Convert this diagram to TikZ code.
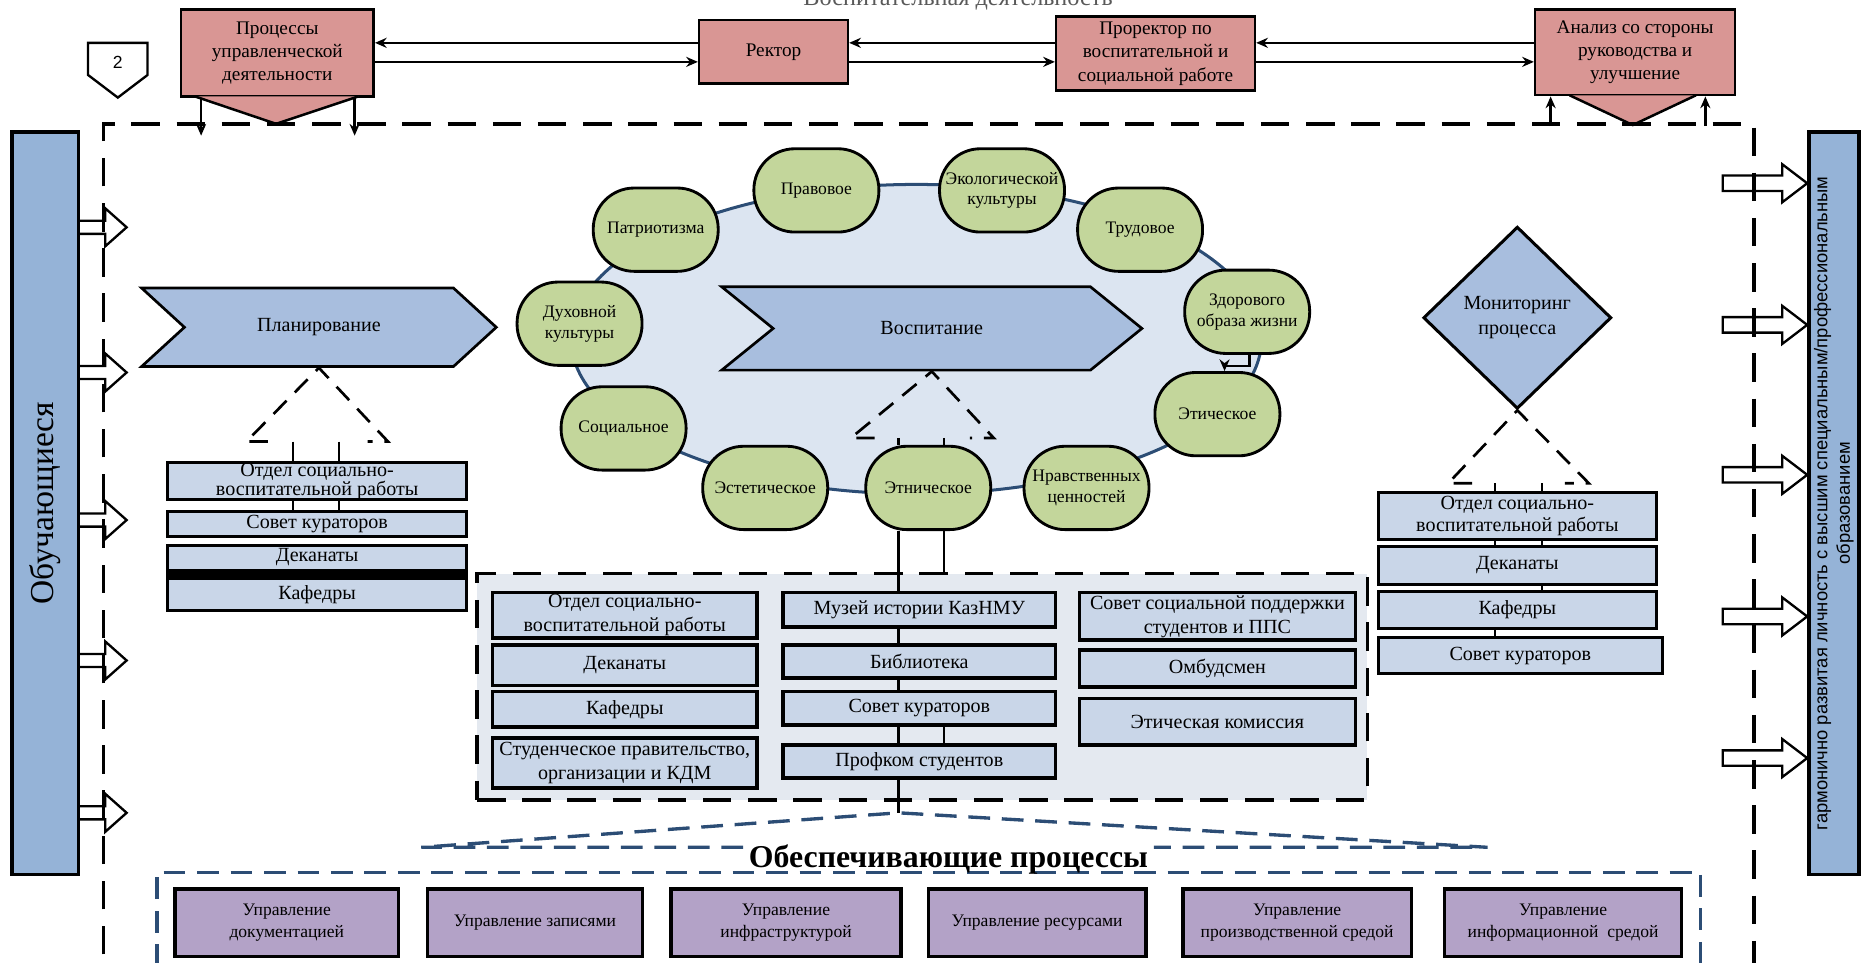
\documentclass[tikz,border=0pt]{standalone}
\usepackage{fontspec}
\setmainfont{Liberation Serif}
\newfontfamily\sansfont{Liberation Sans}
\usetikzlibrary{arrows.meta,shapes.geometric,shapes.symbols,calc}

\definecolor{pinkbox}{RGB}{217,150,148}
\definecolor{barblue}{RGB}{149,179,215}
\definecolor{chevblue}{RGB}{168,190,222}
\definecolor{leafgreen}{RGB}{195,214,155}
\definecolor{paleblue}{RGB}{201,214,232}
\definecolor{ovalfill}{RGB}{220,229,241}
\definecolor{panelfill}{RGB}{228,233,240}
\definecolor{lilac}{RGB}{179,162,199}
\definecolor{navy}{RGB}{44,77,117}

\begin{document}
\begin{tikzpicture}[>={Stealth[length=7pt,width=6pt]},x=0.025cm,y=-0.025cm,font=\fontsize{11.5}{13.9}\selectfont,
  redbox/.style={rectangle,fill=pinkbox,draw=black,line width=1.5pt,align=center,inner sep=0pt},
  bar/.style={rectangle,fill=barblue,draw=black,line width=2pt,rotate=90,inner sep=0pt,align=center},
  chevron/.style={signal,signal from=west,signal to=east,fill=chevblue,draw=black,line width=1.6pt,inner sep=0pt,font=\fontsize{12}{14}\selectfont},
  leaf/.style={rectangle,rounded corners=0.86cm,fill=leafgreen,draw=black,line width=1.7pt,minimum width=2.625cm,minimum height=1.75cm,inner sep=0pt,align=center,font=\fontsize{10.5}{12.5}\selectfont},
  unit/.style={rectangle,fill=paleblue,draw=black,line width=1.8pt,inner sep=0pt,align=center,font=\fontsize{12}{14.5}\selectfont},
  proc/.style={rectangle,fill=lilac,draw=black,line width=2pt,inner sep=0pt,align=center,minimum height=1.425cm,font=\fontsize{10.5}{13}\selectfont},
  panel/.style={rectangle,fill=panelfill,draw=black,line width=2.2pt,dash pattern=on 17pt off 10pt},
  hollow/.style={fill=white,draw=black,line width=1.4pt,line join=miter},
  frame/.style={draw=black,line width=2.2pt,dash pattern=on 17pt off 10pt},
  tridash/.style={draw=black,line width=1.6pt,dash pattern=on 11pt off 7pt},
  link/.style={draw=black,line width=1.3pt},
  arr/.style={->,draw=black,line width=1.6pt},
  roof/.style={draw=navy,line width=2pt,dash pattern=on 13pt off 7pt}]
\useasboundingbox (0,0) rectangle (1568,809);

% top row
\node[anchor=base,text=black!65,font=\fontsize{14.5}{16}\selectfont] (ttl) at (805,5) {Воспитательная деятельность};
\draw[fill=white,draw=black,line width=1.4pt] (74,36) -- (124,36) -- (124,63) -- (99,82) -- (74,63) -- cycle;
\node[font=\sansfont\fontsize{10.5}{12}\selectfont] (num) at (99,52) {2};

\node[redbox,minimum width=4.05cm,minimum height=1.825cm] (proc) at (233,44.5) {Процессы\\управленческой\\деятельности};
\filldraw[fill=pinkbox,draw=black,line width=1.5pt] ($(proc.south west)+(13,-1)$) -- ($(proc.south)+(-1,22)$) -- ($(proc.south east)+(-14,-1)$);
\node[redbox,minimum width=3.125cm,minimum height=1.325cm] (rek) at (650,43.5) {Ректор};
\node[redbox,minimum width=4.175cm,minimum height=1.55cm] (prr) at (971,45) {Проректор по\\воспитательной и\\социальной работе};
\node[redbox,minimum width=4.2cm,minimum height=1.8cm] (ana) at (1374,44) {Анализ со стороны\\руководства и\\улучшение};
\filldraw[fill=pinkbox,draw=black,line width=1.5pt] ($(ana.south west)+(30,-1)$) -- ($(ana.south)+(-2,24)$) -- ($(ana.south east)+(-34,-1)$);

\coordinate (hu) at (0,36);
\coordinate (hl) at (0,52);
\draw[arr] (rek.west |- hu) -- (proc.east |- hu);
\draw[arr] (proc.east |- hl) -- (rek.west |- hl);
\draw[arr] (prr.west |- hu) -- (rek.east |- hu);
\draw[arr] (rek.east |- hl) -- (prr.west |- hl);
\draw[arr] (ana.west |- hu) -- (prr.east |- hu);
\draw[arr] (prr.east |- hl) -- (ana.west |- hl);

% side bars
\node[bar,minimum width=15.6cm,minimum height=1.4cm,font=\fontsize{20}{24}\selectfont] (lern) at (38,423) {Обучающиеся};
\node[bar,minimum width=15.6cm,minimum height=1.05cm,font=\sansfont\fontsize{11}{13.5}\selectfont] (res) at (1541,423) {гармонично развитая личность с высшим специальным/профессиональным\\образованием};

\draw[hollow] (lern.south |- 0,185.5) -- ++(21,0) -- ++(0,-10.5) -- ++(18,16) -- ++(-18,16) -- ++(0,-10.5) -- ++(-21,0);
\draw[hollow] (lern.south |- 0,307.5) -- ++(21,0) -- ++(0,-10.5) -- ++(18,16) -- ++(-18,16) -- ++(0,-10.5) -- ++(-21,0);
\draw[hollow] (lern.south |- 0,431.5) -- ++(21,0) -- ++(0,-10.5) -- ++(18,16) -- ++(-18,16) -- ++(0,-10.5) -- ++(-21,0);
\draw[hollow] (lern.south |- 0,549.5) -- ++(21,0) -- ++(0,-10.5) -- ++(18,16) -- ++(-18,16) -- ++(0,-10.5) -- ++(-21,0);
\draw[hollow] (lern.south |- 0,677.5) -- ++(21,0) -- ++(0,-10.5) -- ++(18,16) -- ++(-18,16) -- ++(0,-10.5) -- ++(-21,0);

\draw[hollow] (res.north |- 0,154) -- ++(-21,-16) -- ++(0,9.5) -- ++(-50,0) -- ++(0,13) -- ++(50,0) -- ++(0,9.5) -- cycle;
\draw[hollow] (res.north |- 0,273) -- ++(-21,-16) -- ++(0,9.5) -- ++(-50,0) -- ++(0,13) -- ++(50,0) -- ++(0,9.5) -- cycle;
\draw[hollow] (res.north |- 0,399) -- ++(-21,-16) -- ++(0,9.5) -- ++(-50,0) -- ++(0,13) -- ++(50,0) -- ++(0,9.5) -- cycle;
\draw[hollow] (res.north |- 0,518) -- ++(-21,-16) -- ++(0,9.5) -- ++(-50,0) -- ++(0,13) -- ++(50,0) -- ++(0,9.5) -- cycle;
\draw[hollow] (res.north |- 0,637) -- ++(-21,-16) -- ++(0,9.5) -- ++(-50,0) -- ++(0,13) -- ++(50,0) -- ++(0,9.5) -- cycle;

% dashed frame and links to it
\draw[frame] (87,840) -- (87,104) -- (1474,104) -- (1474,840);
\coordinate (pd1) at (169,114);
\coordinate (pd2) at (298,114);
\draw[arr] (proc.south -| pd1) -- (pd1);
\draw[arr] (proc.south -| pd2) -- (pd2);
\coordinate (au1) at (1303,106);
\coordinate (au2) at (1433,106);
\draw[arr] (au1) -- (au1 |- ana.south);
\draw[arr] (au2) -- (au2 |- ana.south);

% planning
\node[chevron,signal pointer angle=85,minimum width=7.45cm,minimum height=1.65cm] (plan) at (268,275) {Планирование};
\coordinate (pl) at (207,371);
\coordinate (pr) at (326,371);
\draw[tridash] ($(pl)+(18,0)$) -- (pl) -- (plan.south) -- (pr) -- ($(pr)+(-17,0)$);
\node[unit,minimum width=6.275cm,minimum height=0.775cm,font=\fontsize{12}{11}\selectfont] (lb1) at (266.5,404.5) {Отдел социально-\\воспитательной работы};
\node[unit,minimum width=6.275cm,minimum height=0.525cm] (lb2) at (266.5,440.5) {Совет кураторов};
\node[unit,minimum width=6.275cm,minimum height=0.525cm] (lb3) at (266.5,468.5) {Деканаты};
\node[unit,minimum width=6.275cm,minimum height=0.675cm] (lb4) at (266.5,499.5) {Кафедры};
\fill (lb3.south west) rectangle (lb4.north east);
\coordinate (pt1) at (246,371);
\coordinate (pt2) at (285,371);
\draw[link] (pt1) -- (lb1.north -| pt1);
\draw[link] (pt2) -- (lb1.north -| pt2);
\draw[link] (lb1.south -| pt1) -- (lb2.north -| pt1);
\draw[link] (lb1.south -| pt2) -- (lb2.north -| pt2);

% upbringing directions
\node[ellipse,fill=ovalfill,draw=navy,line width=1.8pt,minimum width=14.5cm,minimum height=6.5cm] (oval) at (770,285) {};
\node[leaf] (pr) at (686,160) {Правовое};
\node[leaf] (ek) at (842,160) {Экологической\\культуры};
\node[leaf] (tr) at (958,193) {Трудовое};
\node[leaf] (zd) at (1048,262) {Здорового\\образа жизни};
\node[leaf] (et) at (1023,348) {Этическое};
\node[leaf] (nr) at (913,410) {Нравственных\\ценностей};
\node[leaf] (en) at (780,410) {Этническое};
\node[leaf] (es) at (643,410) {Эстетическое};
\node[leaf] (so) at (524,360) {Социальное};
\node[leaf] (du) at (487,272) {Духовной\\культуры};
\node[leaf] (pa) at (551,193) {Патриотизма};
\draw[->,line width=1.3pt] ([xshift=0.05cm]zd.south) -- ++(0,9) -| ([xshift=0.15cm]et.north);
\node[chevron,signal pointer angle=78,minimum width=8.825cm,minimum height=1.75cm] (vosp) at (783,276) {Воспитание};
\coordinate (vl) at (715,368);
\coordinate (vr) at (835,368);
\draw[tridash] ($(vl)+(20,0)$) -- (vl) -- (vosp.south) -- (vr) -- ($(vr)+(-20,0)$);
\coordinate (sA) at (755,683);
\coordinate (sB) at (793,0);
\draw[link] (vl -| sA) -- (en.north -| sA);
\draw[link] (vl -| sB) -- (en.north -| sB);

% executors
\node[panel,minimum width=18.7cm,minimum height=4.75cm] (cbox) at (775,577) {};
\draw[link] (en.south -| sA) -- (sA);
\draw[link] (en.south -| sB) -- (cbox.north -| sB);
\node[unit,line width=2.2pt,minimum width=5.55cm,minimum height=0.95cm] (c11) at (525,517) {Отдел социально-\\воспитательной работы};
\node[unit,line width=2.2pt,minimum width=5.55cm,minimum height=0.85cm] (c12) at (525,559) {Деканаты};
\node[unit,line width=2.2pt,minimum width=5.55cm,minimum height=0.75cm] (c13) at (525,596) {Кафедры};
\node[unit,line width=2.2pt,minimum width=5.55cm,minimum height=1.05cm] (c14) at (525,641) {Студенческое правительство,\\организации и КДМ};
\node[unit,line width=2.2pt,minimum width=5.725cm,minimum height=0.725cm] (c21) at (772.5,512.5) {Музей истории КазНМУ};
\node[unit,line width=2.2pt,minimum width=5.725cm,minimum height=0.7cm] (c22) at (772.5,556) {Библиотека};
\node[unit,line width=2.2pt,minimum width=5.725cm,minimum height=0.7cm] (c23) at (772.5,595) {Совет кураторов};
\node[unit,line width=2.2pt,minimum width=5.725cm,minimum height=0.7cm] (c24) at (772.5,640) {Профком студентов};
\draw[link] (c23.south -| sB) -- (c24.north -| sB);
\node[unit,line width=2.2pt,minimum width=5.8cm,minimum height=1.0cm] (c31) at (1023,518) {Совет социальной поддержки\\студентов и ППС};
\node[unit,line width=2.2pt,minimum width=5.8cm,minimum height=0.775cm] (c32) at (1023,561.5) {Омбудсмен};
\node[unit,line width=2.2pt,minimum width=5.8cm,minimum height=0.975cm] (c33) at (1023,606.5) {Этическая комиссия};

% monitoring
\node[diamond,fill=chevblue,draw=black,line width=1.8pt,minimum width=3.95cm,minimum height=3.825cm,inner sep=0pt,align=center,font=\fontsize{12}{15}\selectfont] (mon) at (1275,267) {Мониторинг\\процесса};
\coordinate (ml) at (1217,406);
\coordinate (mr) at (1335,406);
\draw[tridash] ($(ml)+(20,0)$) -- (ml) -- (mon.south) -- (mr) -- ($(mr)+(-20,0)$);
\node[unit,minimum width=5.85cm,minimum height=0.975cm,font=\fontsize{12}{13}\selectfont] (rb1) at (1275,433.5) {Отдел социально-\\воспитательной работы};
\node[unit,minimum width=5.85cm,minimum height=0.8cm] (rb2) at (1275,475) {Деканаты};
\node[unit,minimum width=5.85cm,minimum height=0.775cm] (rb3) at (1275,512.5) {Кафедры};
\node[unit,minimum width=5.975cm,minimum height=0.75cm] (rb4) at (1277.5,551) {Совет кураторов};
\coordinate (mt1) at (1256,406);
\coordinate (mt2) at (1296,406);
\draw[link] (mt1) -- (rb1.north -| mt1);
\draw[link] (mt2) -- (rb1.north -| mt2);
\draw[link] (rb1.south -| mt1) -- (rb2.north -| mt1);
\draw[link] (rb1.south -| mt2) -- (rb2.north -| mt2);
\draw[link] (rb2.south -| mt2) -- (rb3.north -| mt2);
\draw[link] (rb3.south -| mt1) -- (rb4.north -| mt1);

% supporting processes
\draw[roof] (132,840) -- (132,733) -- (1429,733) -- (1429,840);
\node[font=\bfseries\fontsize{19}{22}\selectfont] (obt) at (797,722) {Обеспечивающие процессы};
\coordinate (rl) at (354,712);
\coordinate (rr) at (1250,712);
\draw[roof] (rl -| obt.west) -- (rl) -- (sA) -- (rr) -- (rr -| obt.east);
\node[proc,minimum width=4.7cm] (u1) at (241,775.5) {Управление\\документацией};
\node[proc,minimum width=4.525cm] (u2) at (449.5,775.5) {Управление записями};
\node[proc,minimum width=4.825cm] (u3) at (660.5,775.5) {Управление\\инфраструктурой};
\node[proc,minimum width=4.575cm] (u4) at (871.5,775.5) {Управление ресурсами};
\node[proc,minimum width=4.8cm] (u5) at (1090,775.5) {Управление\\производственной средой};
\node[proc,minimum width=4.975cm] (u6) at (1313.5,775.5) {Управление\\информационной\ \ средой};
\end{tikzpicture}
\end{document}
